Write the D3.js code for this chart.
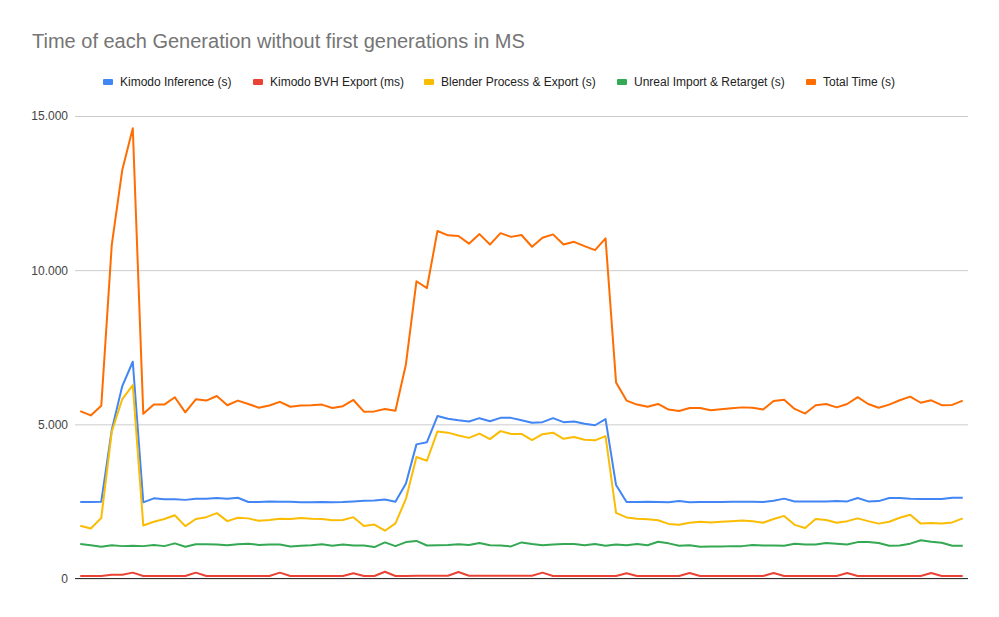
<!DOCTYPE html>
<html>
<head>
<meta charset="utf-8">
<script src="https://cdn.jsdelivr.net/npm/d3@7"></script>
<style>
  body { margin: 0; background: #fff; }
  svg { display: block; font-family: "Liberation Sans", Arial, sans-serif; }
</style>
</head>
<body>
<script>
// series names and colors
var seriesNames = ["Kimodo Inference (s)", "Kimodo BVH Export (ms)", "Blender Process & Export (s)",
    "Unreal Import & Retarget (s)", "Total Time (s)"];
var seriesColors = ["#4285f4", "#ea4335", "#fbbc04", "#34a853", "#ff6d01"];

var yTicks = [0, 5000, 10000, 15000];

var kimodoInference = [2480, 2480, 2490, 4820, 6240, 7030, 2470, 2600, 2570, 2570,
    2550, 2590, 2590, 2610, 2590, 2620, 2480, 2480, 2500, 2490,
    2490, 2470, 2470, 2480, 2470, 2480, 2500, 2520, 2530, 2560,
    2490, 3080, 4350, 4420, 5270, 5180, 5130, 5090, 5200, 5100,
    5210, 5210, 5130, 5050, 5070, 5200, 5070, 5090, 5020, 4970,
    5170, 3030, 2480, 2480, 2490, 2480, 2470, 2510, 2470, 2480,
    2480, 2480, 2490, 2490, 2490, 2480, 2520, 2590, 2500, 2500,
    2500, 2500, 2510, 2500, 2610, 2500, 2510, 2610, 2610, 2590,
    2580, 2580, 2580, 2620, 2620];

var bvhExport = [80, 80, 80, 120, 120, 190, 80, 80, 80, 80,
    80, 190, 80, 80, 80, 80, 80, 80, 80, 190,
    80, 80, 80, 80, 80, 80, 170, 80, 80, 220,
    80, 80, 90, 90, 90, 90, 210, 90, 90, 90,
    90, 90, 90, 90, 190, 80, 80, 80, 80, 80,
    80, 80, 170, 80, 80, 80, 80, 80, 180, 80,
    80, 80, 80, 80, 80, 80, 180, 80, 80, 80,
    80, 80, 80, 180, 80, 80, 80, 80, 80, 80,
    80, 180, 80, 80, 80];

var blenderProcess = [1710, 1620, 1960, 4760, 5820, 6270, 1720, 1840, 1930, 2050,
    1700, 1930, 1990, 2120, 1860, 1970, 1950, 1870, 1900, 1940,
    1930, 1960, 1940, 1930, 1890, 1900, 1990, 1700, 1750, 1550,
    1790, 2580, 3940, 3820, 4770, 4730, 4640, 4560, 4700, 4520,
    4780, 4690, 4690, 4490, 4680, 4730, 4530, 4590, 4500, 4480,
    4620, 2130, 1980, 1940, 1920, 1890, 1770, 1740, 1810, 1840,
    1820, 1840, 1860, 1880, 1860, 1810, 1930, 2030, 1740, 1640,
    1930, 1900, 1810, 1860, 1950, 1860, 1780, 1840, 1970, 2070,
    1780, 1800, 1780, 1820, 1950];

var unrealImport = [1120, 1080, 1030, 1080, 1050, 1060, 1050, 1090, 1050, 1140,
    1030, 1110, 1110, 1100, 1080, 1110, 1130, 1090, 1100, 1100,
    1040, 1060, 1080, 1110, 1060, 1100, 1070, 1070, 1020, 1170,
    1050, 1180, 1220, 1070, 1080, 1090, 1110, 1090, 1150, 1080,
    1070, 1040, 1170, 1120, 1080, 1100, 1120, 1120, 1080, 1120,
    1060, 1100, 1080, 1120, 1080, 1190, 1140, 1060, 1080, 1030,
    1040, 1040, 1050, 1050, 1090, 1070, 1070, 1060, 1130, 1100,
    1100, 1150, 1130, 1100, 1180, 1180, 1150, 1060, 1070, 1130,
    1240, 1190, 1160, 1060, 1060];

var totalTime = [5430, 5290, 5600, 10820, 13250, 14600, 5340, 5640, 5640, 5880,
    5390, 5810, 5770, 5920, 5620, 5770, 5660, 5540, 5610, 5730,
    5570, 5610, 5620, 5640, 5530, 5590, 5790, 5410, 5420, 5500,
    5440, 6950, 9640, 9420, 11270, 11130, 11110, 10860, 11170, 10830,
    11200, 11080, 11140, 10760, 11050, 11160, 10830, 10920, 10780, 10650,
    11030, 6360, 5770, 5640, 5570, 5660, 5480, 5430, 5530, 5530,
    5460, 5490, 5520, 5550, 5540, 5480, 5760, 5800, 5500, 5350,
    5620, 5660, 5550, 5660, 5880, 5660, 5540, 5640, 5780, 5900,
    5700, 5780, 5620, 5630, 5770];

var allSeries = [kimodoInference, bvhExport, blenderProcess, unrealImport, totalTime];

var width = 999;
var height = 617;
var plotLeft = 75, plotRight = 968, plotTop = 116, plotBottom = 578.5;

var svg = d3.select("body").append("svg")
    .attr("width", width)
    .attr("height", height);

svg.append("text")
    .attr("x", 32)
    .attr("y", 48)
    .attr("font-size", "20px")
    .attr("fill", "#757575")
    .text("Time of each Generation without first generations in MS");

var locale = d3.formatLocale({decimal: ",", thousands: ".", grouping: [3], currency: ["", ""]});
var fmt = locale.format(",d");

var xScale = d3.scalePoint()
    .domain(d3.range(totalTime.length))
    .range([plotLeft, plotRight])
    .padding(0.5);

var yScale = d3.scaleLinear()
    .domain([0, 15000])
    .range([plotBottom, plotTop]);

// gridlines + labels
var yAxis = d3.axisLeft(yScale)
    .tickValues(yTicks)
    .tickFormat(fmt)
    .tickSize(-(plotRight - plotLeft))
    .tickPadding(7);

var gy = svg.append("g")
    .attr("transform", "translate(" + plotLeft + ",0)")
    .call(yAxis);
gy.select(".domain").remove();
gy.selectAll(".tick line").attr("stroke", "#cccccc");
gy.selectAll(".tick text")
    .attr("fill", "#444")
    .attr("font-size", "12px")
    .attr("font-family", "Liberation Sans, Arial, sans-serif");

var line = d3.line()
    .x(function(d, i) { return xScale(i); })
    .y(function(d) { return yScale(d); });

svg.selectAll(".series")
    .data(allSeries)
    .enter()
    .append("path")
    .attr("class", "series")
    .attr("fill", "none")
    .attr("stroke", function(d, i) { return seriesColors[i]; })
    .attr("stroke-width", 2)
    .attr("stroke-linejoin", "round")
    .attr("d", line);

// baseline
var xAxis = d3.axisBottom(xScale).tickValues([]).tickSizeOuter(0);
var gx = svg.append("g")
    .attr("transform", "translate(0," + yScale(0) + ")")
    .call(xAxis);
gx.select(".domain").attr("stroke", "#333").attr("d", "M" + plotLeft + ",0H" + plotRight);

// legend
var legendX = [103, 253, 424, 617, 806];
var legend = svg.selectAll(".legend")
    .data(seriesNames)
    .enter()
    .append("g")
    .attr("class", "legend")
    .attr("transform", function(d, i) { return "translate(" + legendX[i] + ",82)"; });

legend.append("rect")
    .attr("x", 0)
    .attr("y", -3)
    .attr("width", 10)
    .attr("height", 6)
    .attr("rx", 1)
    .attr("fill", function(d, i) { return seriesColors[i]; });

legend.append("text")
    .attr("x", 17)
    .attr("y", 4)
    .attr("font-size", "12px")
    .attr("fill", "#222")
    .text(function(d) { return d; });
</script>
</body>
</html>
